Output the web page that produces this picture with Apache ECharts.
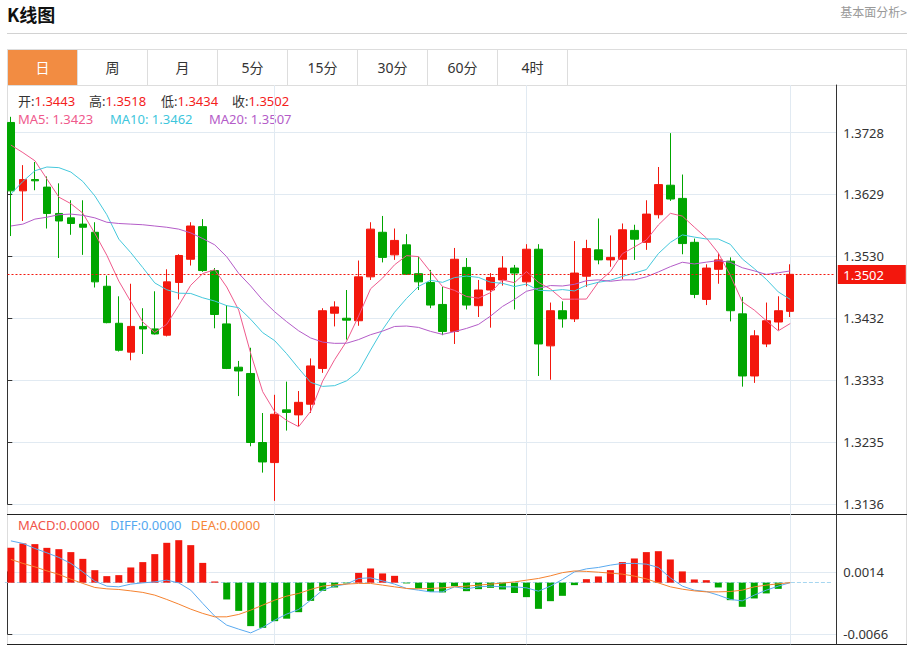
<!DOCTYPE html>
<html>
<head>
<meta charset="utf-8">
<script src="https://cdn.jsdelivr.net/npm/echarts@6/dist/echarts.min.js"></script>
<style>
  html, body { margin: 0; padding: 0; }
  body { width: 912px; height: 646px; position: relative; overflow: hidden; background: #fff;
         font-family: "Noto Sans", "Noto Sans CJK SC", sans-serif; }
  .abs { position: absolute; }
  #title { left: 7px; top: 2px; font-size: 18px; font-weight: bold; color: #111; line-height: 24px;
           font-family: "Noto Sans CJK SC", sans-serif; }
  #more { right: 5px; top: 4px; font-size: 12px; color: #999; line-height: 16px;
          font-family: "Noto Sans CJK SC", sans-serif; }
  #rule { left: 7px; top: 33px; width: 900px; height: 1px; background: #d2d2d2; }
  #tabs { left: 7px; top: 49px; width: 900px; height: 37px; box-sizing: border-box;
          border: 1px solid #dddddd; display: flex; }
  .tab { width: 70px; height: 35px; box-sizing: border-box; border-right: 1px solid #dddddd;
         text-align: center; line-height: 35px; font-size: 14px; color: #333;
         font-family: "Noto Sans", "Noto Sans CJK SC", sans-serif; }
  .tab.on { background: #f28c42; color: #fff; }
  #frame { left: 7px; top: 85px; width: 900px; height: 560px; box-sizing: border-box;
           border-left: 1px solid #dddddd; border-right: 1px solid #dddddd; }
  .sep { left: 7px; width: 900px; height: 1px; background: #222; }
  .leg { font-size: 13px; line-height: 14px; white-space: nowrap; }
  .lab { color: #333; }
  .val { color: #f4211c; }
  #chart { left: 0; top: 0; width: 912px; height: 646px; z-index: 2; }
</style>
</head>
<body>
<div id="title" class="abs">K线图</div>
<div id="more" class="abs">基本面分析&gt;</div>
<div id="rule" class="abs"></div>
<div id="tabs" class="abs"></div>
<div id="frame" class="abs"></div>
<div class="abs sep" style="top:514px"></div>
<div class="abs sep" style="top:644px"></div>
<div id="legends"></div>
<div id="chart" class="abs"></div>
<script>
// ---------------- data ----------------
const tabNames = ['日', '周', '月', '5分', '15分', '30分', '60分', '4时'];

const categories = Array.from({ length: 69 }, (_, i) => String(i + 1)); // 66 sessions + 3 empty slots

const opens  = [1.3744,1.3635,1.3653,1.3641,1.3599,1.3592,1.3582,1.3569,1.3483,1.3424,
                1.3378,1.3419,1.3415,1.3405,1.3489,1.3526,1.3578,1.3508,1.3423,1.3354,
                1.3344,1.3234,1.3202,1.3286,1.3278,1.3295,1.3352,1.3440,1.3432,1.3428,
                1.3498,1.3569,1.3533,1.3549,1.3503,1.3489,1.3454,1.3411,1.3513,1.3452,
                1.3477,1.3493,1.3512,1.3490,1.3542,1.3388,1.3444,1.3431,1.3499,1.3541,
                1.3525,1.3526,1.3572,1.3553,1.3597,1.3644,1.3623,1.3553,1.3462,1.3510,
                1.3523,1.3439,1.3340,1.3391,1.3426,1.3443];
const closes = [1.3635,1.3653,1.3651,1.3599,1.3587,1.3583,1.3577,1.3490,1.3425,1.3381,
                1.3419,1.3415,1.3407,1.3490,1.3532,1.3579,1.3508,1.3438,1.3352,1.3348,
                1.3234,1.3203,1.3279,1.3282,1.3298,1.3356,1.3444,1.3450,1.3429,1.3498,
                1.3574,1.3529,1.3556,1.3502,1.3490,1.3453,1.3411,1.3526,1.3453,1.3477,
                1.3497,1.3512,1.3504,1.3542,1.3391,1.3444,1.3431,1.3504,1.3543,1.3525,
                1.3529,1.3573,1.3558,1.3598,1.3645,1.3622,1.3551,1.3470,1.3512,1.3525,
                1.3444,1.3340,1.3404,1.3428,1.3444,1.3502];
const lows   = [1.3563,1.3587,1.3636,1.3575,1.3528,1.3565,1.3533,1.3481,1.3424,1.3379,
                1.3365,1.3375,1.3406,1.3403,1.3462,1.3516,1.3506,1.3416,1.3351,1.3308,
                1.3228,1.3186,1.3141,1.3253,1.3260,1.3281,1.3345,1.3419,1.3398,1.3420,
                1.3493,1.3521,1.3525,1.3501,1.3477,1.3448,1.3405,1.3391,1.3446,1.3434,
                1.3417,1.3484,1.3446,1.3483,1.3340,1.3334,1.3417,1.3426,1.3482,1.3518,
                1.3514,1.3494,1.3525,1.3541,1.3591,1.3619,1.3534,1.3464,1.3453,1.3487,
                1.3427,1.3323,1.3329,1.3386,1.3413,1.3434];
const highs  = [1.3753,1.3676,1.3681,1.3658,1.3647,1.3620,1.3620,1.3585,1.3500,1.3467,
                1.3487,1.3448,1.3475,1.3510,1.3534,1.3585,1.3590,1.3512,1.3453,1.3364,
                1.3385,1.3281,1.3310,1.3331,1.3316,1.3368,1.3448,1.3459,1.3477,1.3524,
                1.3585,1.3595,1.3575,1.3566,1.3530,1.3509,1.3482,1.3544,1.3528,1.3493,
                1.3504,1.3531,1.3517,1.3550,1.3550,1.3457,1.3459,1.3555,1.3557,1.3591,
                1.3564,1.3583,1.3581,1.3620,1.3673,1.3727,1.3661,1.3559,1.3518,1.3536,
                1.3529,1.3466,1.3413,1.3457,1.3467,1.3518];

const ma5Head  = [1.3708,1.3696,1.3683,1.3654];
const ma10Head = [1.3630,1.3650,1.3667,1.3673,1.3672,1.3665,1.3650,1.3627,1.3597];
const ma20Head = [1.3579,1.3582,1.3590,1.3593,1.3597,1.3598,1.3596,1.3592,1.3585,1.3583,
                  1.3582,1.3581,1.3579,1.3577,1.3574,1.3568,1.3559,1.3549,1.3530];

const macdHist = [0.00449,0.00506,0.00497,0.00449,0.00432,0.00394,0.00307,0.00161,0.00084,0.00097,
                  0.00196,0.00265,0.00368,0.00514,0.00548,0.00484,0.00255,0.00015,-0.00217,-0.00364,
                  -0.00561,-0.00583,-0.00497,-0.00465,-0.00381,-0.00235,-0.00106,-0.00062,-0.0001,0.00126,
                  0.00183,0.00119,0.00088,-0.0001,-0.00075,-0.00119,-0.00126,-0.00045,-0.0011,-0.00084,
                  -0.00067,-0.00088,-0.00135,-0.00187,-0.00338,-0.00239,-0.0017,-0.00032,0.00045,0.0008,
                  0.00161,0.00265,0.00312,0.00394,0.00406,0.00299,0.00145,0.00041,0.00032,-0.00062,
                  -0.00226,-0.00312,-0.00204,-0.00139,-0.0008,0];
const diffLine = [0.00539,0.00506,0.00441,0.00385,0.00325,0.00248,0.00139,0.00019,-0.00045,-0.00054,
                  -0.00019,-0.00003,0.0001,0.00032,-0.00003,-0.00097,-0.00268,-0.00432,-0.00548,-0.006,
                  -0.00648,-0.00578,-0.00484,-0.00406,-0.00346,-0.00226,-0.00097,-0.00045,-0.00019,0.00054,
                  0.00062,0.00023,-0.00019,-0.00075,-0.00097,-0.00119,-0.00119,-0.00054,-0.0008,-0.00054,
                  -0.00045,-0.00054,-0.00054,-0.00067,-0.0011,-0.00045,0.00041,0.00139,0.00178,0.00196,
                  0.00226,0.00248,0.00248,0.00239,0.00196,0.00062,-0.00045,-0.00097,-0.00114,-0.00161,
                  -0.00217,-0.00235,-0.00161,-0.00097,-0.00045,0];
const deaLine  = [0.003,0.00248,0.00204,0.00152,0.00106,0.00045,-0.0001,-0.00062,-0.0008,-0.00088,
                  -0.00106,-0.00126,-0.00161,-0.00217,-0.00277,-0.00342,-0.00397,-0.00441,-0.00441,-0.0041,
                  -0.00355,-0.0029,-0.00226,-0.00174,-0.00139,-0.00088,-0.00045,-0.00028,-0.00019,-0.0001,
                  -0.0001,-0.00032,-0.00054,-0.00075,-0.0008,-0.00075,-0.00067,-0.00054,-0.00045,-0.00032,
                  -0.00019,-0.00006,0.0001,0.00032,0.00054,0.00088,0.00129,0.00151,0.00145,0.00135,
                  0.00123,0.0011,0.00084,0.00049,-0.00003,-0.00054,-0.00084,-0.00106,-0.00119,-0.00119,
                  -0.00114,-0.00097,-0.00054,-0.00032,-0.00015,0];

const priceTickLabels = ['1.3136','1.3235','1.3333','1.3432','1.3530','1.3629','1.3728'];
const macdTickLabels  = ['-0.0066','0.0014'];
const guideIdx = [22, 43, 65];   // sessions carrying a vertical guide line

const ohlcHeader = [['开:', '1.3443'], ['高:', '1.3518'], ['低:', '1.3434'], ['收:', '1.3502']];
const maHeader   = [['MA5: 1.3423', '#ef5a8c'], ['MA10: 1.3462', '#3ec6dc'], ['MA20: 1.3507', '#b45cc8']];
const macdHeader = [['MACD:0.0000', '#f0544a'], ['DIFF:0.0000', '#54a8f0'], ['DEA:0.0000', '#f5873a']];

// ---------------- colours & layout ----------------
const UP = '#f3170d', DOWN = '#00a600';
const C_MA5 = '#ef5a8c', C_MA10 = '#45c8dc', C_MA20 = '#b45cc8';
const C_DIFF = '#5aaaf0', C_DEA = '#f5822f';
const GRIDC = '#e1eaf2';
const PRICE_LINE = '#f3170d';

const plotLeft = 4.9, slotW = 11.99;
const plotW = slotW * categories.length;
const axisX = 836.3;
const priceTop = 85, priceBottom = 514.3, labTop = 132.5, labBottom = 504;
const macdTop = 514.3, macdBottom = 644.3, mLabTop = 571.8, mLabBottom = 633.8;

// ---------------- header html ----------------
document.getElementById('tabs').innerHTML =
  tabNames.map((t, i) => `<div class="tab${i === 0 ? ' on' : ''}">${t}</div>`).join('');
const legX1 = [18, 89, 161, 232], legX2 = [18, 110, 209], legX3 = [18, 110, 191];
let html = '';
ohlcHeader.forEach((p, i) => {
  html += `<div class="abs leg" style="left:${legX1[i]}px;top:94px"><span class="lab">${p[0]}</span><span class="val">${p[1]}</span></div>`;
});
maHeader.forEach((p, i) => {
  html += `<div class="abs leg" style="left:${legX2[i]}px;top:112px;color:${p[1]}">${p[0]}</div>`;
});
macdHeader.forEach((p, i) => {
  html += `<div class="abs leg" style="left:${legX3[i]}px;top:518px;color:${p[1]}">${p[0]}</div>`;
});
document.getElementById('legends').innerHTML = html;

// ---------------- derived ----------------
function movingAvg(n, head) {
  return closes.map((c, i) => {
    if (i < n - 1) return head[i];
    let s = 0;
    for (let k = i - n + 1; k <= i; k++) s += closes[k];
    return +(s / n).toFixed(5);
  });
}
const ma5 = movingAvg(5, ma5Head), ma10 = movingAvg(10, ma10Head), ma20 = movingAvg(20, ma20Head);

const pLo = parseFloat(priceTickLabels[0]), pHi = parseFloat(priceTickLabels[priceTickLabels.length - 1]);
const pS = (pHi - pLo) / (labBottom - labTop);
const priceMin = pLo - (priceBottom - labBottom) * pS, priceMax = pHi + (labTop - priceTop) * pS;
const mLo = parseFloat(macdTickLabels[0]), mHi = parseFloat(macdTickLabels[1]);
const mS = (mHi - mLo) / (mLabBottom - mLabTop);
const macdMin = mLo - (macdBottom - mLabBottom) * mS, macdMax = mHi + (mLabTop - macdTop) * mS;

const candleData = opens.map((o, i) => [o, closes[i], lows[i], highs[i]]);
const last = closes[closes.length - 1];

const FONT = '"Noto Sans", "Noto Sans CJK SC", sans-serif';
const guideLines = guideIdx.map(i => ({ xAxis: categories[i],
  lineStyle: { color: GRIDC, type: 'solid', width: 1, opacity: 1 } }));

function dataX(gi) {
  return { type: 'category', gridIndex: gi, data: categories, boundaryGap: true, show: false };
}
function labX(gi) { return { type: 'value', gridIndex: gi, min: 0, max: 1, show: false }; }

const chart = echarts.init(document.getElementById('chart'), null, { renderer: 'svg', width: 912, height: 646 });
chart.setOption({
  animation: false,
  textStyle: { fontFamily: FONT },
  grid: [
    { left: plotLeft, top: priceTop, width: plotW, height: priceBottom - priceTop, containLabel: false, outerBoundsMode: 'none' },
    { left: 7.3, top: labTop, width: axisX - 7.3, height: labBottom - labTop, containLabel: false, outerBoundsMode: 'none' },
    { left: plotLeft, top: macdTop, width: plotW, height: macdBottom - macdTop, containLabel: false, outerBoundsMode: 'none' },
    { left: 7.3, top: mLabTop, width: axisX - 7.3, height: mLabBottom - mLabTop, containLabel: false, outerBoundsMode: 'none' }
  ],
  xAxis: [dataX(0), labX(1), dataX(2), labX(3)],
  yAxis: [
    { type: 'value', gridIndex: 0, position: 'right', offset: axisX - (plotLeft + plotW), min: priceMin, max: priceMax,
      axisLine: { show: true, lineStyle: { color: '#333', width: 1 } }, axisTick: { show: false },
      axisLabel: { show: false }, splitLine: { show: false } },
    { type: 'value', gridIndex: 1, position: 'right', min: 0, max: priceTickLabels.length - 1, interval: 1,
      axisLine: { show: true, lineStyle: { color: '#333', width: 1 } },
      axisTick: { show: true, length: 5, lineStyle: { color: '#333' } },
      axisLabel: { show: true, margin: 7, color: '#333', fontSize: 13, fontFamily: FONT,
                   formatter: v => priceTickLabels[Math.round(v)] },
      splitLine: { show: true, lineStyle: { color: GRIDC, width: 1 } } },
    { type: 'value', gridIndex: 2, position: 'right', offset: axisX - (plotLeft + plotW), min: macdMin, max: macdMax,
      axisLine: { show: true, lineStyle: { color: '#333', width: 1 } }, axisTick: { show: false },
      axisLabel: { show: false }, splitLine: { show: false } },
    { type: 'value', gridIndex: 3, position: 'right', min: 0, max: 1, interval: 1,
      axisLine: { show: true, lineStyle: { color: '#333', width: 1 } },
      axisTick: { show: true, length: 5, lineStyle: { color: '#333' } },
      axisLabel: { show: true, margin: 7, color: '#333', fontSize: 13, fontFamily: FONT,
                   formatter: v => macdTickLabels[Math.round(v)] },
      splitLine: { show: true, lineStyle: { color: GRIDC, width: 1 } } }
  ],
  series: [
    { type: 'candlestick', xAxisIndex: 0, yAxisIndex: 0, data: candleData, barWidth: 8,
      itemStyle: { color: UP, color0: DOWN, borderColor: UP, borderColor0: DOWN, borderWidth: 1 },
      markLine: { z: 1, silent: true, symbol: ['none', 'none'], animation: false,
                  label: { show: false }, lineStyle: { color: GRIDC, type: 'solid', width: 1 },
                  emphasis: { disabled: true }, data: guideLines } },
    { type: 'line', name: 'MA5', xAxisIndex: 0, yAxisIndex: 0, data: ma5, symbol: 'none', showSymbol: false,
      lineStyle: { color: C_MA5, width: 1 }, itemStyle: { color: C_MA5 } },
    { type: 'line', name: 'MA10', xAxisIndex: 0, yAxisIndex: 0, data: ma10, symbol: 'none', showSymbol: false,
      lineStyle: { color: C_MA10, width: 1 }, itemStyle: { color: C_MA10 } },
    { type: 'line', name: 'MA20', xAxisIndex: 0, yAxisIndex: 0, data: ma20, symbol: 'none', showSymbol: false,
      lineStyle: { color: C_MA20, width: 1 }, itemStyle: { color: C_MA20 } },
    { type: 'bar', name: 'MACD', xAxisIndex: 2, yAxisIndex: 2, barWidth: 7,
      data: macdHist.map(v => ({ value: v, itemStyle: { color: v >= 0 ? UP : DOWN } })),
      markLine: { z: 1, silent: true, symbol: ['none', 'none'], animation: false, emphasis: { disabled: true },
                  label: { show: false },
                  data: guideLines.concat([{ yAxis: 0, lineStyle: { color: '#a6d6f0', type: [4, 2], width: 1, opacity: 1 } }]) } },
    { type: 'line', name: 'DIFF', xAxisIndex: 2, yAxisIndex: 2, data: diffLine, symbol: 'none', showSymbol: false,
      lineStyle: { color: C_DIFF, width: 1 }, itemStyle: { color: C_DIFF } },
    { type: 'line', name: 'DEA', xAxisIndex: 2, yAxisIndex: 2, data: deaLine, symbol: 'none', showSymbol: false,
      lineStyle: { color: C_DEA, width: 1 }, itemStyle: { color: C_DEA } }
  ]
});

// current-price guide: position taken from the price axis scale
const yLast = Math.round(chart.convertToPixel({ yAxisIndex: 0 }, last)) + 0.5;
chart.setOption({
  graphic: [
    { type: 'line', z: 50, silent: true,
      shape: { x1: 7.5, y1: yLast, x2: axisX - 1, y2: yLast },
      style: { stroke: PRICE_LINE, lineWidth: 1, lineDash: [2, 2] } },
    { type: 'rect', z: 50, silent: true,
      shape: { x: axisX + 1.5, y: yLast - 9.5, width: 68, height: 19 },
      style: { fill: PRICE_LINE } },
    { type: 'text', z: 51, silent: true, x: axisX + 7, y: yLast,
      style: { text: last.toFixed(4), fill: '#fff', font: '13px ' + FONT, textVerticalAlign: 'middle', verticalAlign: 'middle' } }
  ]
});
</script>
</body>
</html>
